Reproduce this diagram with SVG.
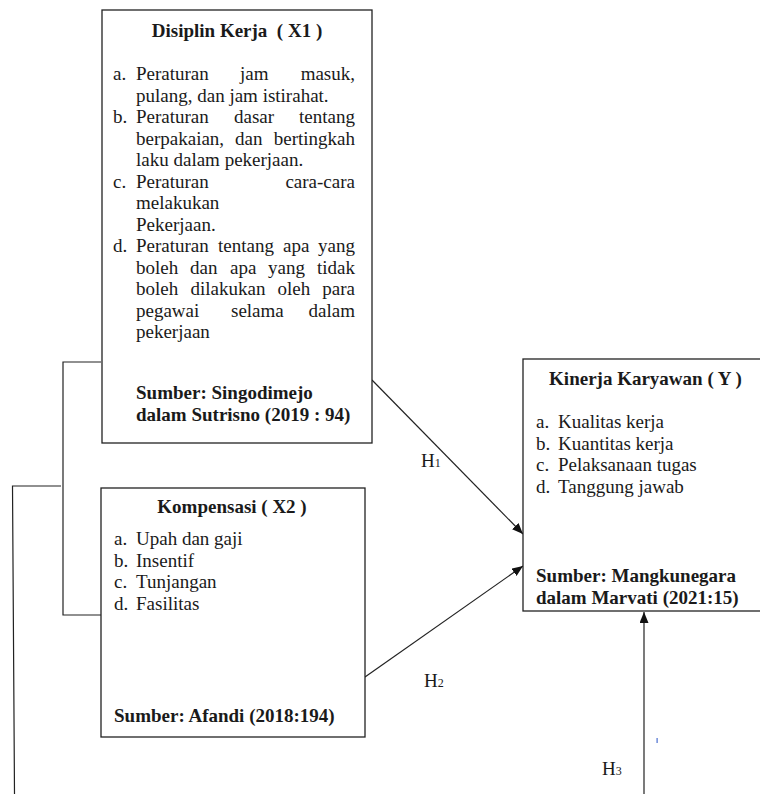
<svg xmlns="http://www.w3.org/2000/svg" width="760" height="794" viewBox="0 0 760 794">
<style>
.t{font-family:"Liberation Serif","Times New Roman",serif;font-size:19px;fill:#1a1a1a}
.b{font-weight:bold}
.box{fill:#fff;stroke:#222;stroke-width:1.3}
.ln{fill:none;stroke:#222;stroke-width:1.2}
.s{font-size:12px}
</style>
<defs>
<marker id="ah" markerUnits="userSpaceOnUse" markerWidth="11" markerHeight="9" refX="11" refY="4.5" orient="auto">
<path d="M0,0 L11,4.5 L0,9 z" fill="#111"/>
</marker>
</defs>
<rect width="760" height="794" fill="#fff"/>

<g id="connectors">
<polyline class="ln" points="101,362 63,362 63,615 101,615"/>
<polyline class="ln" points="61,486 12.5,486 14.5,794"/>
<line class="ln" x1="372" y1="380" x2="523" y2="534" marker-end="url(#ah)"/>
<line class="ln" x1="365" y1="677" x2="523" y2="566" marker-end="url(#ah)"/>
<line class="ln" x1="644" y1="794" x2="644" y2="612" marker-end="url(#ah)"/>
<text class="t" x="421" y="467">H<tspan class="s">1</tspan></text>
<text class="t" x="424" y="687">H<tspan class="s">2</tspan></text>
<text class="t" x="602" y="775">H<tspan class="s">3</tspan></text>
<rect x="656.5" y="738" width="1.2" height="5" fill="#4a6fd0"/>
</g>

<g id="x1">
<rect class="box" x="102" y="10" width="270" height="433"/>
<text class="t b" x="237" y="37" text-anchor="middle" xml:space="preserve">Disiplin Kerja  ( X1 )</text>
<text class="t" x="113" y="80">a.</text>
<text class="t" y="80"><tspan x="136">Peraturan</tspan><tspan x="240">jam</tspan></text>
<text class="t" x="355" y="80" text-anchor="end">masuk,</text>
<text class="t" x="136" y="101.5">pulang, dan jam istirahat.</text>
<text class="t" x="113" y="123">b.</text>
<text class="t" y="123"><tspan x="136">Peraturan</tspan><tspan x="234">dasar</tspan></text>
<text class="t" x="355" y="123" text-anchor="end">tentang</text>
<text class="t" y="144.5"><tspan x="136">berpakaian,</tspan><tspan x="235">dan</tspan></text>
<text class="t" x="355" y="144.5" text-anchor="end">bertingkah</text>
<text class="t" x="136" y="166">laku dalam pekerjaan.</text>
<text class="t" x="113" y="187.5">c.</text>
<text class="t" x="136" y="187.5">Peraturan</text>
<text class="t" x="355" y="187.5" text-anchor="end">cara-cara</text>
<text class="t" x="136" y="209">melakukan</text>
<text class="t" x="136" y="230.5">Pekerjaan.</text>
<text class="t" x="113" y="252">d.</text>
<text class="t" y="252"><tspan x="136">Peraturan</tspan><tspan x="218">tentang</tspan><tspan x="283">apa</tspan></text>
<text class="t" x="355" y="252" text-anchor="end">yang</text>
<text class="t" y="273.5"><tspan x="136">boleh</tspan><tspan x="190">dan</tspan><tspan x="230">apa</tspan><tspan x="268">yang</tspan></text>
<text class="t" x="355" y="273.5" text-anchor="end">tidak</text>
<text class="t" y="295"><tspan x="136">boleh</tspan><tspan x="190.5">dilakukan</tspan><tspan x="277.5">oleh</tspan></text>
<text class="t" x="355" y="295" text-anchor="end">para</text>
<text class="t" y="316.5"><tspan x="136">pegawai</tspan><tspan x="231">selama</tspan></text>
<text class="t" x="355" y="316.5" text-anchor="end">dalam</text>
<text class="t" x="136" y="338">pekerjaan</text>
<text class="t b" x="136" y="399">Sumber: Singodimejo</text>
<text class="t b" x="136" y="420.5">dalam Sutrisno (2019 : 94)</text>
</g>

<g id="x2">
<rect class="box" x="101" y="488" width="264" height="249"/>
<text class="t b" x="232" y="513" text-anchor="middle">Kompensasi ( X2 )</text>
<text class="t" x="114" y="545">a.</text><text class="t" x="136" y="545">Upah dan gaji</text>
<text class="t" x="114" y="566.5">b.</text><text class="t" x="136" y="566.5">Insentif</text>
<text class="t" x="114" y="588">c.</text><text class="t" x="136" y="588">Tunjangan</text>
<text class="t" x="114" y="609.5">d.</text><text class="t" x="136" y="609.5">Fasilitas</text>
<text class="t b" x="114" y="722">Sumber: Afandi (2018:194)</text>
</g>

<g id="y">
<rect class="box" x="523" y="359" width="260" height="252"/>
<text class="t b" x="645.5" y="385" text-anchor="middle">Kinerja Karyawan ( Y )</text>
<text class="t" x="536" y="428">a.</text><text class="t" x="558" y="428">Kualitas kerja</text>
<text class="t" x="536" y="449.5">b.</text><text class="t" x="558" y="449.5">Kuantitas kerja</text>
<text class="t" x="536" y="471">c.</text><text class="t" x="558" y="471">Pelaksanaan tugas</text>
<text class="t" x="536" y="492.5">d.</text><text class="t" x="558" y="492.5">Tanggung jawab</text>
<text class="t b" x="536" y="582">Sumber: Mangkunegara</text>
<text class="t b" x="536" y="603.5">dalam Marvati (2021:15)</text>
</g>
</svg>
